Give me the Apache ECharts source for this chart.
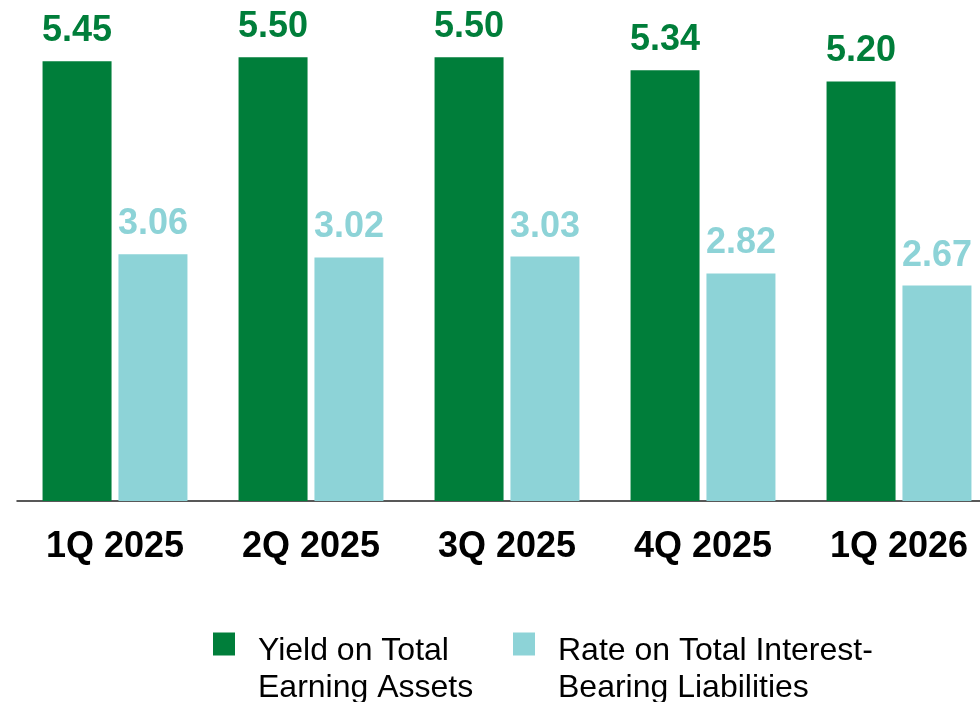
<!DOCTYPE html>
<html lang="en">

<head>
    <meta charset="UTF-8" />
    <title>Yield vs Rate</title>
    <script src="https://cdn.jsdelivr.net/npm/echarts@6/dist/echarts.min.js"></script>
    <style>
        * {
            margin: 0;
        }

        #chart {
            width: 980px;
            height: 702px;
            background-color: #fff;
        }
    </style>
</head>

<body>
    <div id="chart"></div>
    <script>
        const quarters = ["1Q 2025", "2Q 2025", "3Q 2025", "4Q 2025", "1Q 2026"];
        const yieldValues = [5.45, 5.50, 5.50, 5.34, 5.20];
        const rateValues = [3.06, 3.02, 3.03, 2.82, 2.67];
        const seriesNames = ["Yield on Total\nEarning Assets", "Rate on Total Interest-\nBearing Liabilities"];

        const green = "#007E3A";
        const teal = "#8DD3D7";
        const font = "Liberation Sans, Arial, sans-serif";

        // one legend per series so each can sit where the reference puts it;
        // a tall blank first line keeps the square level with the first text line
        function legendFor(name, left) {
            return {
                data: [name],
                left: left,
                top: 591,
                padding: 0,
                icon: "rect",
                itemWidth: 22,
                itemHeight: 23,
                selectedMode: false,
                formatter: (n) => "{s| }\n" + n.split("\n").map((l) => "{t|" + l + "}").join("\n"),
                textStyle: {
                    color: "#000",
                    padding: [0, 0, 0, 18],
                    rich: {
                        s: { fontFamily: font, fontSize: 32, lineHeight: 51 },
                        t: { fontFamily: font, fontSize: 32, lineHeight: 37, color: "#000" },
                    },
                },
            };
        }

        const myChart = echarts.init(document.getElementById("chart"));
        const option = {
            animation: false,
            grid: { left: 17, top: 17, width: 980, bottom: 201, outerBoundsMode: "none", containLabel: false },
            legend: [legendFor(seriesNames[0], 213), legendFor(seriesNames[1], 513)],
            xAxis: {
                type: "category",
                data: quarters,
                axisTick: { show: false },
                axisLine: { lineStyle: { color: "#222", width: 1.5 } },
                axisLabel: {
                    fontFamily: font,
                    fontSize: 36,
                    fontWeight: "bold",
                    color: "#000",
                    margin: 28,
                },
            },
            yAxis: {
                type: "value",
                min: 0,
                max: 6,
                show: false,
                splitLine: { show: false },
            },
            series: [
                {
                    name: seriesNames[0],
                    type: "bar",
                    data: yieldValues,
                    barWidth: 69,
                    barGap: "10%",
                    itemStyle: { color: green },
                    label: {
                        show: true,
                        position: "top",
                        distance: 12,
                        formatter: (p) => p.value.toFixed(2),
                        fontFamily: font,
                        fontSize: 36,
                        fontWeight: "bold",
                        color: green,
                    },
                },
                {
                    name: seriesNames[1],
                    type: "bar",
                    data: rateValues,
                    barWidth: 69,
                    barGap: "10%",
                    itemStyle: { color: teal },
                    label: {
                        show: true,
                        position: "top",
                        distance: 12,
                        formatter: (p) => p.value.toFixed(2),
                        fontFamily: font,
                        fontSize: 36,
                        fontWeight: "bold",
                        color: teal,
                    },
                },
            ],
        };

        myChart.setOption(option);
    </script>
</body>

</html>
